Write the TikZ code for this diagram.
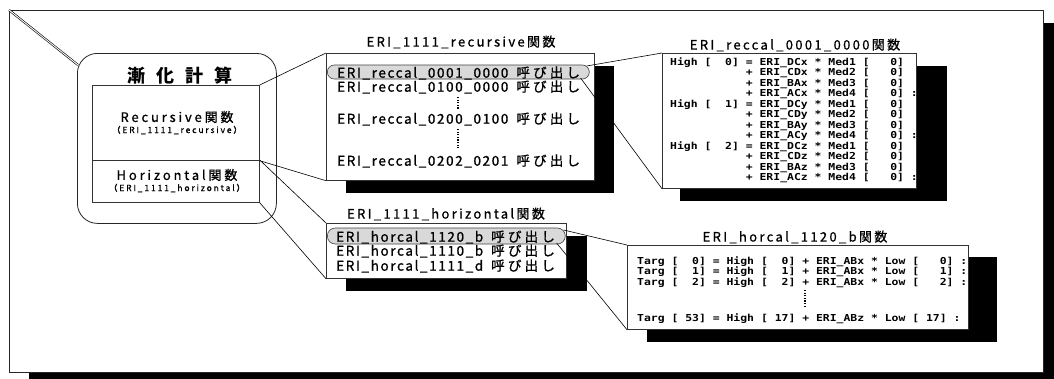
\documentclass[tikz,border=0pt]{standalone}
\usepackage{fontspec}
\setmainfont{Noto Sans CJK JP}
\newfontfamily\jpfont{Noto Sans CJK JP}[LetterSpace=22,FakeBold=0.8]
\newfontfamily\itemfont{Noto Sans CJK JP}[LetterSpace=12,FakeBold=1]
\newfontfamily\ttlfont{Noto Sans CJK JP}[LetterSpace=18,FakeBold=0.8]
\newfontfamily\headfont{Noto Sans CJK JP}[LetterSpace=60]
\newfontfamily\codefont{DejaVu Sans Mono}[FakeStretch=1.19,WordSpace={1,0,0}]
\newcommand\yobi{\hspace*{8pt}{\addfontfeature{LetterSpace=24}呼び出し}}
\usetikzlibrary{positioning,shapes.misc,calc}
\tikzset{
  frm/.style  ={draw=black!85,line width=0.8pt,fill=white,anchor=north west,inner sep=0pt},
  shd/.style  ={fill=black,draw=none},
  lbox/.style ={draw=black!80,line width=0.7pt,fill=white,anchor=north west,inner sep=0pt},
  ttl/.style  ={font=\ttlfont\fontsize{13}{15}\selectfont,inner sep=0pt},
  item/.style ={font=\itemfont\fontsize{13.5}{16}\selectfont,anchor=west,inner sep=0pt},
  sub/.style  ={font=\jpfont\fontsize{13}{15}\selectfont,inner sep=0pt},
  paren/.style={font=\jpfont\fontsize{8.5}{10}\selectfont,inner sep=0pt},
  hl/.style   ={rounded rectangle,draw=black!75,line width=0.6pt,fill=black!15,
                anchor=west,inner sep=0pt},
  code/.style ={font=\codefont\bfseries\fontsize{9.6}{10.5}\selectfont,align=left,
                anchor=north west,inner sep=0pt},
  lnk/.style  ={draw=black,line width=0.6pt},
  vdots/.style={draw=black,line width=1.3pt,dash pattern=on 1.2pt off 1.4pt},
}

\begin{document}
\begin{tikzpicture}[x=1pt,y=-1pt]
\useasboundingbox (0,0) rectangle (1054,378);

% outer frame
\fill[shd] (29,23) rectangle (1060,390);
\node[frm,minimum width=1034pt,minimum height=362pt] (frame) at (9,10) {};

% left block
\node[frm,rounded corners=20pt,minimum width=199pt,minimum height=170pt] (zenka) at (77,53) {};
\node[font=\headfont\bfseries\fontsize{18}{20}\selectfont,inner sep=0pt] (ztitle) at (180,76) {漸化計算};
\node[lbox,minimum width=167pt,minimum height=75pt] (rec) at (92,85) {};
\node[lbox,minimum width=167pt,minimum height=42pt] (hor) at (92,160) {};
\node[sub] (recname) at (177,117) {Recursive関数};
\node[paren] (recfn) at (177,130) {（ERI\_1111\_recursive）};
\node[sub] (horname) at (177,175) {Horizontal関数};
\node[paren] (horfn) at (177,188) {（ERI\_1111\_horizontal）};

% recursive list
\node[ttl] (rtitle) at (461,42) {ERI\_1111\_recursive関数};
\fill[shd] (346,66) rectangle (614,193);
\node[lbox,minimum width=268pt,minimum height=127pt] (rlist) at (326,53) {};
\node[hl,minimum width=262pt,minimum height=14pt] (hl1) at (327,72) {};
\node[item] (r1) at (337,73) {ERI\_reccal\_0001\_0000\yobi};
\node[item] (r2) at (337,87) {ERI\_reccal\_0100\_0000\yobi};
\node[item] (r3) at (337,119) {ERI\_reccal\_0200\_0100\yobi};
\node[item] (r4) at (337,161) {ERI\_reccal\_0202\_0201\yobi};
\draw[vdots] (458,97) -- (458,109);
\draw[vdots] (458,129) -- (458,149);

% reccal code
\node[ttl] (ctitle) at (795,45) {ERI\_reccal\_0001\_0000関数};
\fill[shd] (680,66) rectangle (947,201);
\node[lbox,minimum width=254pt,minimum height=135pt] (rcode) at (662,53) {};
\node[code] (rtxt) at (670,57) {%
High~[~~0]~=~ERI\_DCx~*~Med1~[~~~0]\\
~~~~~~~~~~~+~ERI\_CDx~*~Med2~[~~~0]\\
~~~~~~~~~~~+~ERI\_BAx~*~Med3~[~~~0]\\
~~~~~~~~~~~+~ERI\_ACx~*~Med4~[~~~0]~:\\
High~[~~1]~=~ERI\_DCy~*~Med1~[~~~0]\\
~~~~~~~~~~~+~ERI\_CDy~*~Med2~[~~~0]\\
~~~~~~~~~~~+~ERI\_BAy~*~Med3~[~~~0]\\
~~~~~~~~~~~+~ERI\_ACy~*~Med4~[~~~0]~:\\
High~[~~2]~=~ERI\_DCz~*~Med1~[~~~0]\\
~~~~~~~~~~~+~ERI\_CDz~*~Med2~[~~~0]\\
~~~~~~~~~~~+~ERI\_BAz~*~Med3~[~~~0]\\
~~~~~~~~~~~+~ERI\_ACz~*~Med4~[~~~0]~:};

% horizontal list
\node[ttl] (htitle) at (446,214) {ERI\_1111\_horizontal関数};
\fill[shd] (346,236) rectangle (587,291);
\node[lbox,minimum width=240pt,minimum height=55pt] (hlist) at (326,223) {};
\node[hl,minimum width=238pt,minimum height=16pt] (hl2) at (327,236) {};
\node[item] (h1) at (336,237) {ERI\_horcal\_1120\_b\yobi};
\node[item] (h2) at (336,251) {ERI\_horcal\_1110\_b\yobi};
\node[item] (h3) at (336,266) {ERI\_horcal\_1111\_d\yobi};

% horcal code
\node[ttl] (gtitle) at (795,237) {ERI\_horcal\_1120\_b関数};
\fill[shd] (647,257) rectangle (997,342);
\node[lbox,minimum width=341pt,minimum height=84pt] (hcode) at (627,245) {};
\node[code] (htxt) at (637,256) {%
Targ~[~~0]~=~High~[~~0]~+~ERI\_ABx~*~Low~[~~~0]~:\\
Targ~[~~1]~=~High~[~~1]~+~ERI\_ABx~*~Low~[~~~1]~:\\
Targ~[~~2]~=~High~[~~2]~+~ERI\_ABx~*~Low~[~~~2]~:};
\node[code] (hlast) at (637,313) {Targ~[~53]~=~High~[~17]~+~ERI\_ABz~*~Low~[~17]~:};
\draw[vdots] (805,290) -- (805,307);

% connectors
\draw[lnk,double,double distance=0.9pt] (frame.north west) -- ($(zenka.north west)+(1,12)$);
\draw[lnk] (rec.north east) -- (rlist.north west);
\draw[lnk] (rec.south east) -- (rlist.south west);
\draw[lnk] (hor.north east) -- (hlist.north west);
\draw[lnk] (hor.south east) -- (hlist.south west);
\draw[lnk] ($(hl1.east)+(-3,-6)$) -- (rcode.north west);
\draw[lnk] ($(hl1.east)+(-9,6)$) -- (rcode.south west);
\draw[lnk] ($(hl2.east)+(-2,-6)$) -- (hcode.north west);
\draw[lnk] ($(hl2.east)+(-9,7)$) -- (hcode.south west);
\end{tikzpicture}
\end{document}
